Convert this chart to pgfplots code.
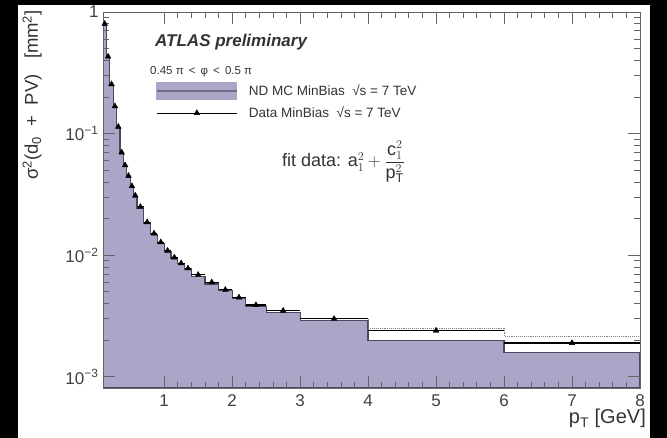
\documentclass[border=0pt]{standalone}
\usepackage{fontspec}
\setmainfont{Liberation Sans}
\usepackage{pgfplots}
\usepackage{pgfplotstable}
\pgfplotsset{compat=1.18}
\definecolor{mcfill}{RGB}{170,166,200}
\definecolor{mcline}{RGB}{75,72,95}
\definecolor{axgray}{RGB}{100,100,100}

% MC histogram: left bin edge, content (last row closes the last bin)
\pgfplotstableread{
x y
0.10 0.78
0.15 0.42
0.20 0.250
0.25 0.165
0.30 0.112
0.35 0.069
0.40 0.054
0.45 0.044
0.50 0.036
0.55 0.030
0.60 0.0245
0.70 0.0182
0.80 0.0148
0.90 0.0125
1.00 0.0107
1.10 0.0094
1.20 0.0085
1.30 0.0077
1.40 0.0067
1.60 0.0058
1.80 0.0051
2.00 0.0044
2.20 0.0038
2.50 0.0034
3.00 0.0029
4.00 0.0020
6.00 0.00158
8.00 0.00158
}\mctable

% Data: bin centre, content, half bin width
\pgfplotstableread{
x y ex
0.125 0.80 0.025
0.175 0.43 0.025
0.225 0.255 0.025
0.275 0.168 0.025
0.325 0.114 0.025
0.375 0.070 0.025
0.425 0.055 0.025
0.475 0.045 0.025
0.525 0.037 0.025
0.575 0.031 0.025
0.65 0.0250 0.05
0.75 0.0187 0.05
0.85 0.0151 0.05
0.95 0.0128 0.05
1.05 0.0109 0.05
1.15 0.0096 0.05
1.25 0.0086 0.05
1.35 0.0078 0.05
1.5 0.0069 0.1
1.7 0.0060 0.1
1.9 0.0052 0.1
2.1 0.0045 0.1
2.35 0.0039 0.15
2.75 0.0035 0.25
3.5 0.0030 0.5
5 0.0024 1
7 0.0019 1
}\datatable

\begin{document}
\begin{tikzpicture}[x=1pt,y=1pt]
\fill[black] (0,0) rectangle (667,438);
\fill[white] (18,0) rectangle (650,433);
\begin{axis}[
  at={(103pt,50pt)}, anchor=south west,
  scale only axis, width=537pt, height=376pt,
  axis on top,
  xmin=0.1, xmax=8,
  ymode=log, ymin=8.1e-4, ymax=1, log origin=infty,
  xtick={1,2,3,4,5,6,7,8}, minor x tick num=4,
  ytick={1e-3,1e-2,1e-1,1},
  yticklabels={10\textsuperscript{−3},10\textsuperscript{−2},10\textsuperscript{−1},1},
  /pgf/number format/assume math mode=true,
  tick align=inside,
  major tick length=12pt, minor tick length=6pt,
  axis line style={axgray, line width=0.9pt},
  every tick/.style={axgray, line width=0.8pt},
  tick label style={font=\fontsize{17}{17}\selectfont, text=black!75},
  xticklabel style={yshift=-3pt},
  yticklabel style={xshift=-1pt},
  legend style={at={(rel axis cs:0.098,0.815)}, anchor=north west,
    draw=none, fill=none, inner sep=0pt, row sep=6pt, column sep=10pt,
    font=\fontsize{13.5}{14}\selectfont, text=black!80,
    nodes={inner sep=1pt}},
  legend cell align=left,
]
\addplot[fill=mcfill, draw=mcline, line width=1.2pt, const plot,
  legend image code/.code={
    \fill[mcfill] (0pt,-8.5pt) rectangle (80pt,8.5pt);
    \draw[mcline!60!mcfill, line width=2pt] (0pt,0pt) -- (80pt,0pt);}]
  table[x=x, y=y] {\mctable} \closedcycle;
\addlegendentry{ND MC MinBias \ √s = 7 TeV}
\addplot[gray, densely dotted, line width=0.9pt, const plot, forget plot]
  coordinates {(3,0.0030) (4,0.0025) (6,0.00215) (8,0.00215)};
\addplot[black, only marks, mark=triangle*, mark size=3.3pt,
  error bars/.cd, x dir=both, x explicit, error mark=none,
  error bar style={black, line width=1.2pt},
  /pgfplots/legend image code/.code={
    \draw[black, line width=0.9pt] (0pt,0pt) -- (80pt,0pt);
    \begin{scope}[shift={(40pt,0pt)}]\pgfuseplotmark{triangle*}\end{scope}}]
  table[x=x, y=y, x error=ex] {\datatable};
\addlegendentry{Data MinBias \ √s = 7 TeV}
\end{axis}
\node[rotate=90, anchor=south east, font=\fontsize{18.5}{18.5}\selectfont, text=black!80, inner sep=0pt]
  at (42,428) {σ\textsuperscript{2}(d\textsubscript{0} \ + \ PV)\ \ \ [mm\textsuperscript{2}]};
\node[anchor=base west, font=\bfseries\itshape\fontsize{17}{17}\selectfont, text=black!80, inner sep=0pt]
  at (155,391) {ATLAS preliminary};
\node[anchor=base west, font=\fontsize{11.5}{12}\selectfont, text=black!80, inner sep=0pt]
  at (150,363) {0.45 π \,<\, φ \,<\, 0.5 π};
\node[anchor=west, font=\fontsize{18}{18}\selectfont, text=black!80, inner sep=0pt]
  at (282,276) {fit data: $\mathrm{a}_1^2 + {\displaystyle\frac{\mathrm{c}_1^2}{\mathrm{p}_\mathrm{T}^2}}$};
\node[anchor=base east, font=\fontsize{20}{20}\selectfont, text=black!80, inner sep=0pt]
  at (646,14) {p\textsubscript{T} [GeV]};
\end{tikzpicture}
\end{document}
